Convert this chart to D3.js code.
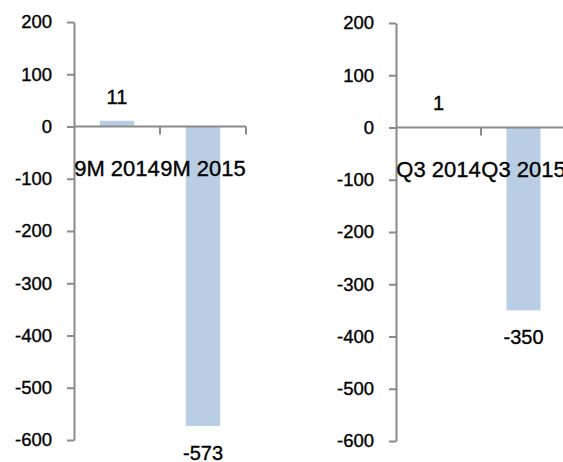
<!DOCTYPE html>
<html>
<head>
<meta charset="utf-8">
<script src="https://cdn.jsdelivr.net/npm/d3@7"></script>
<style>
  body { margin: 0; background: #fff; }
  svg text { font-family: "Liberation Sans", Arial, sans-serif; fill: #000; stroke: #000; stroke-width: 0.35px; }
  .axis path, .axis line { stroke: #8a8a8a; stroke-width: 2; }
</style>
</head>
<body>
<svg id="chart" width="563" height="462"></svg>
<script>
// left panel: nine months
const leftCategories = ["9M 2014", "9M 2015"];
const leftValues = [11, -573];
// right panel: third quarter
const rightCategories = ["Q3 2014", "Q3 2015"];
const rightValues = [1, -350];
const yTicks = [200, 100, 0, -100, -200, -300, -400, -500, -600];

const svg = d3.select("#chart");

function panel(cats, vals, left, right, top, bottom) {
  const g = svg.append("g");

  const y = d3.scaleLinear().domain([-600, 200]).range([bottom, top]);
  const x = d3.scaleBand().domain(cats).range([left, right]).paddingInner(0).paddingOuter(0);
  const barW = x.bandwidth() * 0.4;

  // bars
  g.selectAll("rect")
    .data(vals)
    .enter()
    .append("rect")
    .attr("x", (d, i) => x(cats[i]) + (x.bandwidth() - barW) / 2)
    .attr("width", barW)
    .attr("y", d => y(Math.max(0, d)))
    .attr("height", d => Math.abs(y(d) - y(0)))
    .attr("fill", "#b9cde5");

  // y axis, plain hyphen for negatives
  const ya = g.append("g")
    .attr("class", "axis")
    .attr("transform", `translate(${left},0)`)
    .call(d3.axisLeft(y).tickValues(yTicks).tickFormat(d => String(d))
      .tickSize(7).tickSizeOuter(0).tickPadding(15));
  ya.selectAll("text").style("font-size", "18.5px");

  // x axis at zero, ticks on band edges
  const xa = g.append("g").attr("class", "axis");
  xa.append("line")
    .attr("x1", left).attr("x2", right)
    .attr("y1", y(0)).attr("y2", y(0));
  xa.selectAll("line.tk")
    .data(cats)
    .enter()
    .append("line")
    .attr("class", "tk")
    .attr("x1", d => x(d) + x.bandwidth()).attr("x2", d => x(d) + x.bandwidth())
    .attr("y1", y(0)).attr("y2", y(0) + 8);

  g.selectAll("text.cat")
    .data(cats)
    .enter()
    .append("text")
    .attr("class", "cat")
    .attr("x", d => x(d) + x.bandwidth() / 2)
    .attr("y", y(0) + 49)
    .attr("text-anchor", "middle")
    .style("font-size", "22px")
    .text(d => d);

  // value labels
  g.selectAll("text.val")
    .data(vals)
    .enter()
    .append("text")
    .attr("class", "val")
    .attr("x", (d, i) => x(cats[i]) + x.bandwidth() / 2)
    .attr("y", d => d >= 0 ? y(d) - 17 : y(d) + 34)
    .attr("text-anchor", "middle")
    .style("font-size", "20px")
    .text(d => d);
}

panel(leftCategories, leftValues, 74, 246, 22, 440);
panel(rightCategories, rightValues, 396, 566, 23, 441);
</script>
</body>
</html>
